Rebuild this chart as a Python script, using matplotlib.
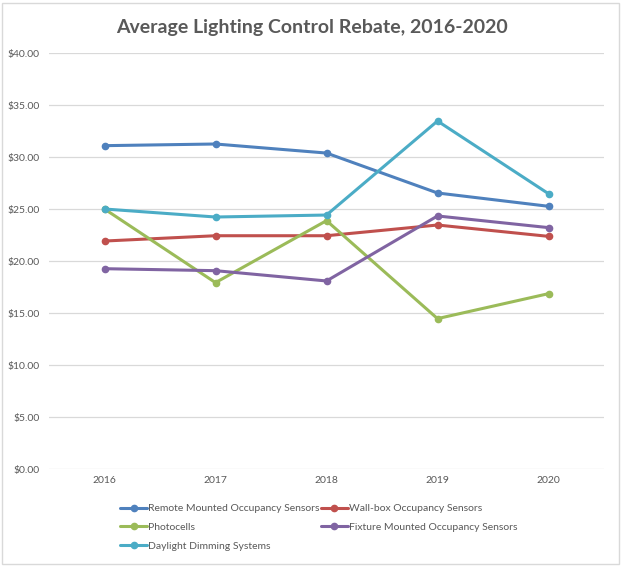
import numpy as np
import matplotlib.pyplot as plt
from matplotlib.patches import Rectangle
from matplotlib.ticker import FuncFormatter

years = ["2016", "2017", "2018", "2019", "2020"]

remote = [31.09, 31.25, 30.38, 26.54, 25.26]
wallbox = [21.92, 22.43, 22.43, 23.46, 22.37]
photocells = [25.00, 17.92, 23.88, 14.46, 16.86]
fixture = [19.26, 19.07, 18.08, 24.33, 23.21]
daylight = [25.00, 24.23, 24.42, 33.46, 26.47]

series = [
    ("Remote Mounted Occupancy Sensors", remote, "#4F81BD"),
    ("Wall-box Occupancy Sensors", wallbox, "#C0504D"),
    ("Photocells", photocells, "#9BBB59"),
    ("Fixture Mounted Occupancy Sensors", fixture, "#8064A2"),
    ("Daylight Dimming Systems", daylight, "#4BACC6"),
]

plt.rcParams['font.family'] = ['Lato', 'DejaVu Sans']
TXT = "#595959"

fig = plt.figure(figsize=(6.23, 5.66), dpi=100)
ax = fig.add_axes([49 / 623, 1 - 469 / 566, 555 / 623, 416 / 566])

x = np.arange(len(years))
handles = {}
for name, vals, col in series:
    h, = ax.plot(x, vals, color=col, lw=2.2, marker="o", ms=4.5, label=name,
                 solid_capstyle="round", zorder=3)
    handles[name] = h

ax.set_xlim(-0.5, len(years) - 0.5)
ax.set_ylim(0, 40)
ax.set_yticks(np.arange(0, 41, 5))
ax.yaxis.set_major_formatter(FuncFormatter(lambda v, p: f"${v:.2f}"))
ax.set_xticks(x)
ax.set_xticklabels(years)
ax.grid(axis="y", color="#d9d9d9", lw=0.9)
ax.set_axisbelow(True)
for s in ax.spines.values():
    s.set_visible(False)
ax.tick_params(length=0, labelsize=7.5, colors=TXT, pad=5)
ax.tick_params(axis="y", pad=7)

fig.text(0.5, 1 - 27 / 566, "Average Lighting Control Rebate, 2016-2020",
         ha="center", va="center", fontsize=14, fontweight="bold", color=TXT)

order = ["Remote Mounted Occupancy Sensors", "Photocells", "Daylight Dimming Systems",
         "Wall-box Occupancy Sensors", "Fixture Mounted Occupancy Sensors"]
leg = fig.legend([handles[n] for n in order], order, ncol=2, loc="upper left",
                 bbox_to_anchor=(120 / 623, 1 - 504 / 566), frameon=False,
                 fontsize=7.5, handlelength=2.6, handletextpad=0.1,
                 columnspacing=0.1, labelspacing=0.9, borderpad=0, borderaxespad=0)
for t in leg.get_texts():
    t.set_color(TXT)

fig.patches.append(Rectangle((2 / 623, 2 / 566), 617 / 623, 561 / 566,
                             transform=fig.transFigure, fill=False,
                             edgecolor="#d9d9d9", lw=1))

fig.savefig("out.png", dpi=100, facecolor="white")
